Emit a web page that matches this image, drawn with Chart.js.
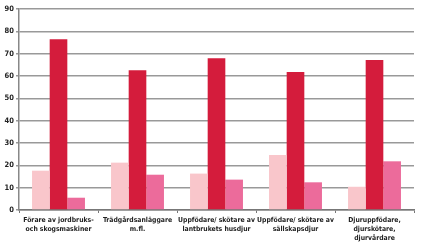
<html>
  <head>
    <script src="https://cdn.jsdelivr.net/npm/chart.js@4"></script>
    <title>Yrken</title>
  </head>
  <body style="margin:0;background:#fff;">
<div style="position:fixed;left:0;top:0;width:421px;height:243px;">
<canvas id="myChart"></canvas>
</div>
    <script>
// kategorier (yrken)
const labels = [
  ["Förare av jordbruks-", "och skogsmaskiner"],
  ["Trädgårdsanläggare", "m.fl."],
  ["Uppfödare/ skötare av", "lantbrukets husdjur"],
  ["Uppfödare/ skötare av", "sällskapsdjur"],
  ["Djuruppfödare,", "djurskötare,", "djurvårdare"]
];
const serie1 = [17.6, 21.2, 16.3, 24.6, 10.4];
const serie2 = [76.4, 62.6, 67.9, 61.8, 67.2];
const serie3 = [5.5, 15.8, 13.6, 12.4, 21.8];
const yTicks = [0, 10, 20, 30, 40, 50, 60, 70, 80, 90];

const xFont = { family: "'DejaVu Sans Condensed', sans-serif", size: 6.8, weight: "bold", lineHeight: 1.3 };
const yFont = { family: "'DejaVu Sans Condensed', sans-serif", size: 7.5, weight: "bold" };

var canvas = document.getElementById("myChart");
var myChart = new Chart(canvas, {
  type: "bar",
  data: {
    labels: labels,
    datasets: [
      { data: serie1, backgroundColor: "#f9c6cb", borderWidth: 0 },
      { data: serie2, backgroundColor: "#d41c3c", borderWidth: 0 },
      { data: serie3, backgroundColor: "#ec6b9b", borderWidth: 0 }
    ]
  },
  options: {
    responsive: true,
    maintainAspectRatio: false,
    animation: false,
    layout: { padding: { top: 9, right: 7, left: 0, bottom: 0 } },
    plugins: {
      legend: { display: false },
      tooltip: { enabled: false }
    },
    datasets: {
      bar: { barPercentage: 1.0, categoryPercentage: 0.67 }
    },
    scales: {
      x: {
        afterFit: (s) => { s.height = 33; },
        grid: {
          offset: true,
          drawOnChartArea: false,
          drawTicks: true,
          tickLength: 3,
          color: "#777"
        },
        border: { color: "#777", width: 1.5 },
        ticks: {
          font: xFont,
          color: "#222",
          maxRotation: 0,
          autoSkip: false,
          padding: 3
        }
      },
      y: {
        min: 0,
        max: 90,
        afterFit: (s) => { s.width = 19; },
        afterBuildTicks: (s) => { s.ticks = yTicks.map(v => ({ value: v })); },
        grid: {
          color: "#999",
          lineWidth: 1.5,
          tickLength: 3
        },
        border: { color: "#888", width: 1.5 },
        ticks: {
          font: yFont,
          color: "#222",
          padding: 2
        }
      }
    }
  }
});
    </script>
  </body>
</html>
